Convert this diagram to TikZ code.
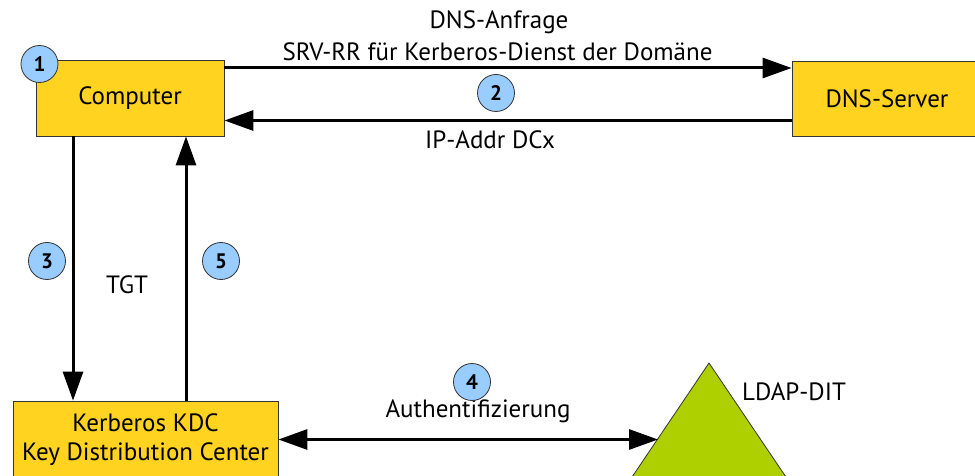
\documentclass[tikz,border=0pt]{standalone}
\usepackage{fontspec}
\setmainfont{PT Sans}
\usetikzlibrary{arrows.meta}
\definecolor{boxfill}{RGB}{255,211,32}
\definecolor{numfill}{RGB}{153,204,255}
\definecolor{treefill}{RGB}{174,207,0}
\definecolor{edge}{RGB}{52,52,52}
\tikzset{
  box/.style={draw=edge, line width=0.8pt, fill=boxfill, align=center,
    font=\fontsize{25}{29}\selectfont, inner sep=0pt},
  num/.style={circle, draw=edge, line width=0.8pt, fill=numfill,
    minimum size=37pt, inner sep=0pt, font=\fontsize{21}{24}\selectfont\bfseries},
  lbl/.style={font=\fontsize{25}{29}\selectfont, inner sep=0pt},
  arr/.style={line width=3pt, -{Triangle[length=29pt,width=20pt]}},
  arrboth/.style={line width=3pt, {Triangle[length=29pt,width=20pt]}-{Triangle[length=29pt,width=20pt]}},
}
\begin{document}
\begin{tikzpicture}[x=1pt,y=-1pt]
\useasboundingbox (0,0) rectangle (975,476);

% directory tree
\draw[draw=edge, line width=0.8pt, fill=treefill] (709,363) -- (815,520) -- (603,520) -- cycle;
\coordinate (ldap) at (658,439.5);
\node[lbl] (ldaptxt) at (794,392) {LDAP-DIT};

% boxes
\node[box, minimum width=188pt, minimum height=76pt] (comp) at (130,98) {Computer};
\node[box, minimum width=190pt, minimum height=75pt] (dns) at (887,98.5) {DNS-Server};
\node[box, minimum width=265pt, minimum height=77pt] (kdc) at (145.5,439.5) {Kerberos KDC\\Key Distribution Center};

% DNS query and answer
\coordinate (q) at ([yshift=30pt]comp.east);
\draw[arr] (q) -- (q -| dns.west);
\coordinate (r) at ([yshift=-22pt]dns.west);
\draw[arr] (r) -- (r -| comp.east);
\node[lbl] (t1) at (499,22) {DNS-Anfrage};
\node[lbl] (t2) at (497.5,52) {SRV-RR für Kerberos-Dienst der Domäne};
\node[lbl] (t3) at (490,140) {IP-Addr DCx};

% ticket exchange
\coordinate (d) at ([xshift=-57pt]comp.south);
\draw[arr] (d) -- (d |- kdc.north);
\coordinate (u) at ([xshift=56pt]comp.south);
\draw[arr] (u |- kdc.north) -- (u);
\node[lbl] (tgt) at (127,285) {TGT};

% authentication
\draw[arrboth] (kdc.east) -- (ldap);
\node[lbl] (auth) at (478,411) {Authentifizierung};

% step numbers
\node[num] (n1) at (39.5,64) {1};
\node[num] (n2) at (496,93) {2};
\node[num] (n3) at (47,261) {3};
\node[num] (n4) at (472,382) {4};
\node[num] (n5) at (221,261) {5};
\end{tikzpicture}
\end{document}
